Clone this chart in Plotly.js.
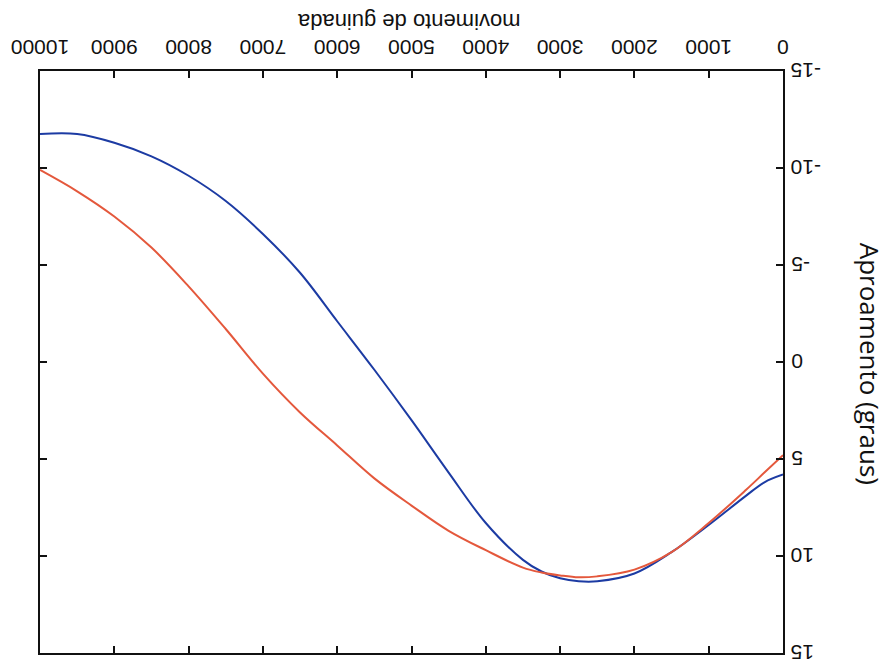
<!DOCTYPE html>
<html>
<head>
<meta charset="utf-8">
<script src="https://cdn.plot.ly/plotly-3.0.1.min.js"></script>
<style>html,body{margin:0;padding:0;background:#fff;}#chart{width:888px;height:666px;}</style>
</head>
<body>
<div id="chart"></div>
<script>
// movimento de guinada
var xVals = [0,250,500,1000,1500,2000,2500,2750,3000,3250,3500,4000,4500,5000,5500,6000,6500,7000,7500,8000,8500,9000,9500,10000];
// Aproamento (graus) - red curve
var redVals = [4.8,5.7,6.6,8.3,9.8,10.7,11.05,11.1,11.0,10.85,10.6,9.7,8.7,7.4,6.0,4.3,2.6,0.6,-1.7,-3.9,-5.9,-7.5,-8.8,-9.9];
// Aproamento (graus) - blue curve
var blueVals = [5.8,6.2,6.9,8.4,9.8,10.9,11.3,11.3,11.15,10.8,10.2,8.3,5.7,3.0,0.4,-2.1,-4.6,-6.6,-8.3,-9.6,-10.6,-11.3,-11.75,-11.75];
var xTicks = [0,1000,2000,3000,4000,5000,6000,7000,8000,9000,10000];
var yTicks = [-15,-10,-5,0,5,10,15];

var traces = [
  {x: xVals, y: blueVals, mode: 'lines', line: {color: '#1c3ba3', width: 2, shape: 'spline'}, showlegend: false},
  {x: xVals, y: redVals, mode: 'lines', line: {color: '#e4583c', width: 2, shape: 'spline'}, showlegend: false}
];

var tickFont = {family: 'Liberation Sans, Arial, sans-serif', size: 21, color: '#111'};

var annotations = yTicks.map(function (v) {
  return {text: String(v), xref: 'paper', yref: 'y', x: 1, xshift: 6, y: v,
          showarrow: false, textangle: 180, xanchor: 'left', yanchor: 'middle', font: tickFont};
});
annotations.push(
  {text: 'movimento de guinada', xref: 'paper', yref: 'paper', x: 0.497, y: 1, yshift: 49,
   showarrow: false, textangle: 180, xanchor: 'center', yanchor: 'middle',
   font: {family: 'Liberation Sans, Arial, sans-serif', size: 22, color: '#111'}},
  {text: 'Aproamento (graus)', xref: 'paper', yref: 'paper', x: 1, xshift: 87, y: 0.497,
   showarrow: false, textangle: 90, xanchor: 'center', yanchor: 'middle',
   font: {family: 'Open Sans, sans-serif', size: 26, color: '#111'}}
);

var layout = {
  width: 888, height: 666,
  margin: {l: 40, r: 105, t: 71, b: 13},
  paper_bgcolor: '#fff', plot_bgcolor: '#fff',
  showlegend: false,
  xaxis: {
    side: 'top', range: [10000, 0], tickvals: xTicks, ticktext: xTicks.map(String),
    tickangle: 180, ticks: 'inside', ticklen: 7, tickwidth: 2, tickcolor: '#111',
    showline: true, linecolor: '#111', linewidth: 2, mirror: 'allticks',
    showgrid: false, zeroline: false, ticklabelstandoff: 0,
    tickfont: tickFont
  },
  yaxis: {
    side: 'right', range: [15, -15], tickvals: yTicks, showticklabels: false,
    ticks: 'inside', ticklen: 7, tickwidth: 2, tickcolor: '#111',
    showline: true, linecolor: '#111', linewidth: 2, mirror: 'allticks',
    showgrid: false, zeroline: false
  },
  annotations: annotations
};

Plotly.newPlot('chart', traces, layout, {staticPlot: true, displayModeBar: false});
</script>
</body>
</html>
